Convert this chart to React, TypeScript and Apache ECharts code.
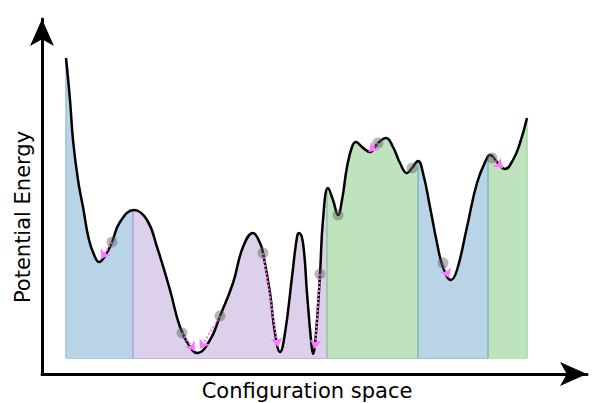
import React, { useEffect, useRef } from "react";
import * as echarts from "echarts";

// Configuration-space coordinate and potential energy of the landscape curve
const configuration = [
  24, 28, 31, 36, 41, 47, 53, 57, 63, 70, 78, 92, 105, 115, 128, 138, 148, 155, 168, 178,
  191, 201, 211, 218, 221, 228, 233, 238, 243, 250, 255, 257, 261, 265, 269, 271, 274, 278,
  281, 286, 291, 296, 300, 305, 310, 314, 320, 328, 336, 344, 351, 358, 365, 370, 376, 381,
  388, 395, 401, 409, 415, 425, 435, 445, 448, 455, 463, 471, 478, 485,
];
const energy = [
  316, 274, 234, 194, 167, 134, 117, 112, 118, 132, 152, 164, 154, 127, 84, 47, 27, 21, 34, 58,
  91, 127, 141, 131, 121, 81, 41, 22, 41, 97, 137, 141, 131, 81, 34, 20, 41, 100,
  154, 186, 174, 159, 174, 207, 227, 232, 227, 222, 231, 236, 227, 211, 201, 206, 213, 201,
  167, 131, 107, 94, 104, 147, 191, 216, 219, 212, 205, 214, 231, 256,
];

// Basins (coloured regions) along configuration space
const basinStart = [24, 91, 285, 376, 446];
const basinEnd = [91, 285, 376, 446, 485];
const basinColor = ["#b9d4e7", "#dcd0ea", "#bfe3bd", "#b9d4e7", "#bfe3bd"];
const fillBase = 16;

// Basin edges: position, energy at edge, colour
const edgeX = [24, 91, 285, 376, 446, 485];
const edgeTop = [316, 164, 184, 213, 218, 256];
const edgeColor = ["#9cc2df", "#b0a3d4", "#8cc89a", "#7fb7b4", "#7fb7b4", "#a6d8a6"];

// Sampled configurations (grey dots) and their descent arrows (pink)
const sampleX = [70, 140, 178, 221, 278, 296, 336, 370, 401, 450];
const sampleY = [132, 41, 58, 121, 100, 159, 231, 206, 111, 216];
const arrowFrom = [
  [70, 132], [140, 41], [178, 58], [221, 121], [278, 100], [336, 231], [401, 111], [450, 216],
];
const arrowTo = [
  [59, 115], [153, 23], [158, 25], [236, 27], [273, 25], [327, 222], [407, 96], [461, 206],
];

export default function App() {
  const ref = useRef<HTMLDivElement>(null);
  useEffect(() => {
    if (!ref.current) return;
    const chart = echarts.init(ref.current, null, { renderer: "svg" });
    const curve = configuration.map((x, i) => [x, energy[i]]);
    const pieces: any[] = basinStart.map((s, i) => ({ gte: s, lt: basinEnd[i], color: basinColor[i] }));
    pieces[pieces.length - 1] = { gte: basinStart[4], lte: basinEnd[4] + 1, color: basinColor[4] };
    const edges = edgeX.map((x, i) => ({
      coords: [[x, fillBase], [x, edgeTop[i]]],
      lineStyle: { color: edgeColor[i], width: 1.5, opacity: 1 },
    }));
    const bottomColorIdx = [0, 1, 2, 3, 5];
    const bottoms = basinStart.map((s, i) => ({
      coords: [[s, fillBase], [basinEnd[i], fillBase]],
      lineStyle: { color: edgeColor[bottomColorIdx[i]], width: 1.2, opacity: 0.8 },
    }));
    const axisCommon = {
      type: "value" as const,
      axisTick: { show: false },
      axisLabel: { show: false },
      splitLine: { show: false },
      axisLine: {
        show: true,
        onZero: false,
        symbol: ["none", "arrow"],
        symbolSize: [18, 27],
        lineStyle: { color: "#000", width: 3 },
      },
    };
    chart.setOption({
      animation: false,
      grid: { left: 42, right: 18, top: 19, bottom: 29 },
      xAxis: { ...axisCommon, min: 0, max: 545 },
      yAxis: { ...axisCommon, min: 0, max: 355 },
      visualMap: {
        show: false,
        type: "piecewise",
        dimension: 0,
        seriesIndex: 0,
        pieces,
      },
      series: [
        {
          type: "line",
          data: curve,
          smooth: 0.45,
          showSymbol: false,
          lineStyle: { width: 0 },
          areaStyle: { opacity: 1, origin: fillBase },
          z: 1,
        },
        {
          type: "lines",
          coordinateSystem: "cartesian2d",
          data: [...edges, ...bottoms],
          z: 2,
        },
        {
          type: "line",
          data: curve,
          smooth: 0.45,
          showSymbol: false,
          lineStyle: { color: "#000", width: 2.5 },
          z: 3,
        },
        {
          type: "lines",
          coordinateSystem: "cartesian2d",
          data: arrowFrom.map((f, i) => ({ coords: [f, arrowTo[i]] })),
          symbol: ["none", "arrow"],
          symbolSize: 9,
          lineStyle: { color: "#ff77ff", width: 2, type: "dotted", opacity: 1 },
          z: 4,
        },
        {
          type: "scatter",
          data: sampleX.map((x, i) => [x, sampleY[i]]),
          symbolSize: 11,
          itemStyle: { color: "rgba(90,90,90,0.55)" },
          z: 5,
        },
      ],
      graphic: [
        {
          type: "text",
          x: 307,
          y: 391,
          style: {
            text: "Configuration space",
            fontFamily: "DejaVu Sans",
            fontSize: 21,
            fill: "#000",
            align: "center",
            verticalAlign: "middle",
          },
        },
        {
          type: "text",
          x: 23,
          y: 217,
          rotation: Math.PI / 2,
          style: {
            text: "Potential Energy",
            fontFamily: "DejaVu Sans",
            fontSize: 21,
            fill: "#000",
            align: "center",
            verticalAlign: "middle",
          },
        },
      ],
    });
    return () => chart.dispose();
  }, []);
  return <div ref={ref} style={{ width: 605, height: 403, position: "absolute", left: 0, top: 0 }} />;
}
